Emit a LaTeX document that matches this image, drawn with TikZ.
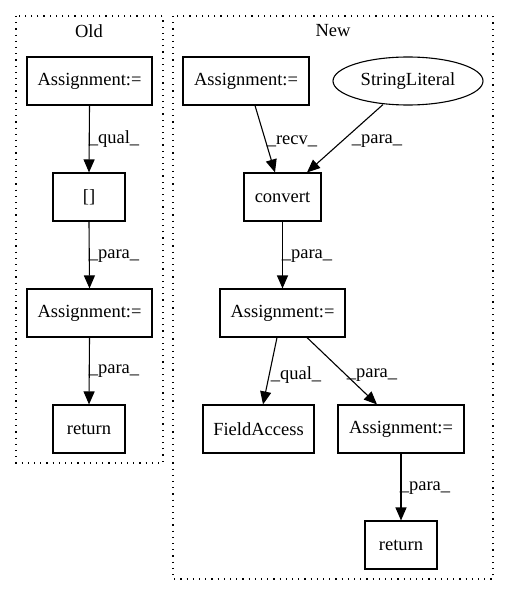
\documentclass[tikz,border=0pt]{standalone}
\usepackage{fontspec}
\setmainfont{Liberation Serif}
\usetikzlibrary{arrows.meta,shapes.geometric}
\begin{document}
\begin{tikzpicture}[x=1pt,y=-1pt,
  every node/.style={font=\fontsize{18.5}{20}\selectfont},
  box/.style={draw,line width=1.1pt,rectangle,inner sep=0pt,anchor=center},
  oval/.style={draw,line width=1.1pt,ellipse,inner sep=0pt,anchor=center},
  cluster/.style={draw,line width=1.1pt,dash pattern=on 1.2pt off 5pt},
  edge/.style={line width=1.1pt,-{Triangle[length=13pt,width=11pt]}},
  lbl/.style={inner sep=0pt,anchor=center}]
\useasboundingbox (0,0) rectangle (509,596);
% clusters
\draw[cluster] (16,16) rectangle (163,463);
\draw[cluster] (173,16) rectangle (493,579);
\node[lbl] (oldlbl) at (89,31) {Old};
\node[lbl] (newlbl) at (333,31) {New};
% Old nodes
\node[box,minimum width=125pt,minimum height=48pt] (oa1) at (89.5,81) {Assignment:=};
\node[box,minimum width=72pt,minimum height=48pt] (ob) at (89,197) {[]};
\node[box,minimum width=125pt,minimum height=48pt] (oa2) at (89.5,313) {Assignment:=};
\node[box,minimum width=72pt,minimum height=48pt] (oret) at (89,429) {return};
% New nodes
\node[box,minimum width=126pt,minimum height=48pt] (na1) at (246,81) {Assignment:=};
\node[oval,minimum width=150pt,minimum height=48pt] (nsl) at (408,81) {StringLiteral};
\node[box,minimum width=77pt,minimum height=48pt] (nconv) at (282.5,197) {convert};
\node[box,minimum width=125pt,minimum height=48pt] (na2) at (282.5,313) {Assignment:=};
\node[box,minimum width=111pt,minimum height=48pt] (nfa) at (258.5,429) {FieldAccess};
\node[box,minimum width=126pt,minimum height=48pt] (na3) at (401,429) {Assignment:=};
\node[box,minimum width=72pt,minimum height=48pt] (nret) at (401,545) {return};
% Old edges
\draw[edge] (oa1.south) -- (ob.north);
\node[lbl] (l1) at (114,139) {\_qual\_};
\draw[edge] (ob.south) -- (oa2.north);
\node[lbl] (l2) at (114,256) {\_para\_};
\draw[edge] (oa2.south) -- (oret.north);
\node[lbl] (l3) at (114,371) {\_para\_};
% New edges
\draw[edge] (na1.south -| 255,0) -- (nconv.north -| 275,0);
\node[lbl] (l4) at (292,141) {\_recv\_};
\draw[edge] (nsl.south -| 383,0) ++(0,-1) -- (nconv.north -| 307,0);
\node[lbl] (l5) at (377,141) {\_para\_};
\draw[edge] (nconv.south) -- (na2.north);
\node[lbl] (l6) at (307,256) {\_para\_};
\draw[edge] (na2.south -| 277,0) -- (nfa.north -| 263,0);
\node[lbl] (l7) at (296,375) {\_qual\_};
\draw[edge] (na2.south -| 307,0) -- (na3.north -| 377,0);
\node[lbl] (l8) at (372,375) {\_para\_};
\draw[edge] (na3.south) -- (nret.north);
\node[lbl] (l9) at (425,488) {\_para\_};
\end{tikzpicture}
\end{document}
